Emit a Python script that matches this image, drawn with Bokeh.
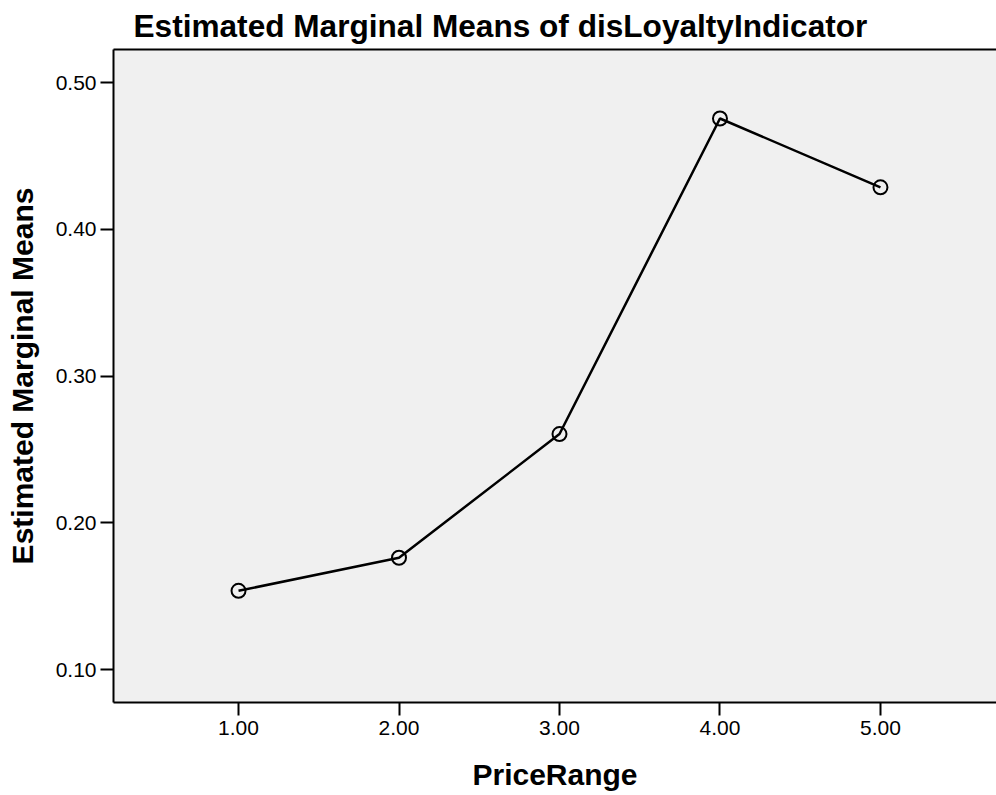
from bokeh.plotting import figure
from bokeh.models import FixedTicker, PrintfTickFormatter, LinearAxis, Range1d
from bokeh.embed import file_html
from bokeh.resources import INLINE

price_range = [1.0, 2.0, 3.0, 4.0, 5.0]
marginal_means = [0.1537, 0.1762, 0.2605, 0.4755, 0.4286]
y_ticks = [0.10, 0.20, 0.30, 0.40, 0.50]
x_ticks = [1.0, 2.0, 3.0, 4.0, 5.0]

FONT = "Liberation Sans"

p = figure(width=996, height=795, output_backend="svg", toolbar_location=None,
           x_range=Range1d(0.221, 5.723), y_range=Range1d(0.0776, 0.5225),
           min_border_left=113, min_border_right=0, min_border_top=49, min_border_bottom=93,
           title="Estimated Marginal Means of disLoyaltyIndicator")

p.background_fill_color = "#F0F0F0"
p.border_fill_color = "white"
p.outline_line_color = None
p.grid.visible = False

p.title.text_font = FONT
p.title.text_font_size = "31.6px"
p.title.text_font_style = "bold"
p.title.text_color = "black"
p.title.align = "left"
p.title.offset = 20
p.title.standoff = 11
p.title.text_line_height = 0.85

for ax in (p.xaxis[0], p.yaxis[0]):
    ax.axis_line_width = 2
    ax.axis_line_color = "black"
    ax.major_tick_line_width = 2
    ax.major_tick_line_color = "black"
    ax.major_tick_in = 0
    ax.major_tick_out = 13
    ax.minor_tick_line_color = None
    ax.major_label_text_font = FONT
    ax.major_label_text_font_size = "21px"
    ax.major_label_text_color = "black"
    ax.axis_label_text_font = FONT
    ax.axis_label_text_font_size = "30px"
    ax.axis_label_text_font_style = "bold"
    ax.axis_label_text_color = "black"
    ax.formatter = PrintfTickFormatter(format="%.2f")

p.xaxis[0].ticker = FixedTicker(ticks=x_ticks)
p.yaxis[0].ticker = FixedTicker(ticks=y_ticks)
p.xaxis[0].axis_label = "PriceRange"
p.yaxis[0].axis_label = "Estimated Marginal Means"
p.xaxis[0].major_label_standoff = 5
p.yaxis[0].major_label_standoff = 4
p.xaxis[0].axis_label_standoff = 20
p.yaxis[0].axis_label_standoff = 14

top_axis = LinearAxis(axis_line_width=2, axis_line_color="black",
                      major_tick_line_color=None, minor_tick_line_color=None,
                      major_label_text_font_size="0px", major_tick_out=0, major_tick_in=0,
                      ticker=FixedTicker(ticks=[]))
p.add_layout(top_axis, "above")

p.line(price_range, marginal_means, line_color="black", line_width=2.5)
p.scatter(price_range, marginal_means, marker="circle", size=14,
          fill_color=None, line_color="black", line_width=2)

open("out.html", "w").write(file_html(p, INLINE))
